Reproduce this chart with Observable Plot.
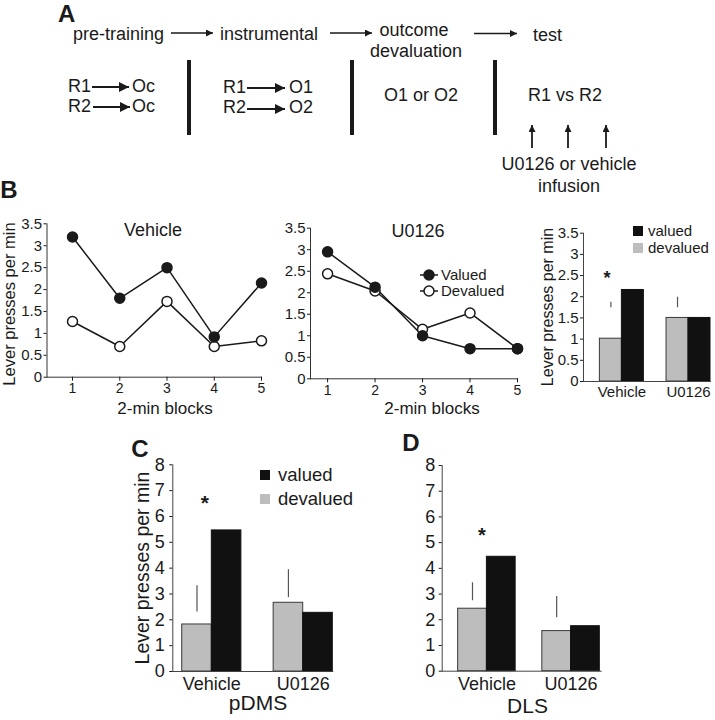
<!DOCTYPE html>
<html><head><meta charset="utf-8">
<script src="https://cdn.jsdelivr.net/npm/d3@7"></script>
<script src="https://cdn.jsdelivr.net/npm/@observablehq/plot@0.6"></script>
<style>
body{margin:0;background:#fff;overflow:hidden}
#fig{position:relative;width:715px;height:720px;background:#fff;font-family:"Liberation Sans",Arial,sans-serif;color:#1a1a1a;overflow:hidden}
.lbl{position:absolute;white-space:nowrap;transform:translate(-50%,-50%);line-height:1}
.rot{transform:translate(-50%,-50%) rotate(-90deg)}
.leg{position:absolute;white-space:nowrap;line-height:0.8;transform:translateY(-50%)}
.sq{position:absolute}
</style></head><body><div id="fig"></div>
<script>
// ---------- data ----------
const blocks = [1, 2, 3, 4, 5];
const vehicleValued = [3.2, 1.8, 2.5, 0.92, 2.15];
const vehicleDevalued = [1.27, 0.7, 1.73, 0.7, 0.83];
const u0126Valued = [2.95, 2.13, 1.0, 0.7, 0.7];
const u0126Devalued = [2.44, 2.04, 1.15, 1.53, 0.7];
const lineTicksY = [0, 0.5, 1, 1.5, 2, 2.5, 3, 3.5];

const groups = ["Vehicle", "U0126"];
const testValued = [2.16, 1.5];
const testDevalued = [1.01, 1.5];
const testErrLow = [1.74, 1.74];
const testErrHigh = [1.87, 1.99];
const testStar = [2.55, null];

const pdmsValued = [5.46, 2.27];
const pdmsDevalued = [1.82, 2.66];
const pdmsErrLow = [2.3, 2.86];
const pdmsErrHigh = [3.32, 3.94];
const pdmsStar = [6.73, null];

const dlsValued = [4.45, 1.75];
const dlsDevalued = [2.43, 1.56];
const dlsErrLow = [2.74, 2.08];
const dlsErrHigh = [3.44, 2.91];
const dlsStar = [5.5, null];
const barTicksY = [0, 1, 2, 3, 4, 5, 6, 7, 8];

const INK = "#1a1a1a", GRAY = "#bdbdbd", BLACK = "#111";
const FONT = "Liberation Sans, Arial, sans-serif";
const fig = document.getElementById("fig");

function place(el, left, top) {
  el.style.position = "absolute";
  el.style.left = left + "px";
  el.style.top = top + "px";
  fig.appendChild(el);
}
function label(text, x, y, size, opts = {}) {
  const d = document.createElement("div");
  d.className = "lbl" + (opts.rotate ? " rot" : "");
  d.textContent = text;
  d.style.left = x + "px";
  d.style.top = y + "px";
  d.style.fontSize = size + "px";
  if (opts.bold) d.style.fontWeight = "bold";
  fig.appendChild(d);
}

// ---------- panel A (schematic) ----------
(function () {
  const ns = "http://www.w3.org/2000/svg";
  const svg = document.createElementNS(ns, "svg");
  svg.setAttribute("width", 715); svg.setAttribute("height", 200);
  svg.style.position = "absolute"; svg.style.left = "0px"; svg.style.top = "0px";
  svg.innerHTML = `<defs>
    <marker id="hs" viewBox="0 0 10 10" refX="10" refY="5" markerWidth="8" markerHeight="7" markerUnits="userSpaceOnUse" orient="auto"><path d="M0,0L10,5L0,10z" fill="${INK}"/></marker>
    <marker id="hb" viewBox="0 0 10 10" refX="10" refY="5" markerWidth="11" markerHeight="10" markerUnits="userSpaceOnUse" orient="auto"><path d="M0,0L10,5L0,10z" fill="${INK}"/></marker>
  </defs>`;
  const g = document.createElementNS(ns, "g");
  g.setAttribute("font-family", FONT); g.setAttribute("font-size", 18); g.setAttribute("fill", INK);
  svg.appendChild(g);
  const txt = (s, x, y, anchor = "start", extra = {}) => {
    const t = document.createElementNS(ns, "text");
    t.setAttribute("x", x); t.setAttribute("y", y); t.setAttribute("text-anchor", anchor);
    for (const k in extra) t.setAttribute(k, extra[k]);
    t.textContent = s; g.appendChild(t);
  };
  const arrow = (x1, y1, x2, y2, big, w) => {
    const l = document.createElementNS(ns, "line");
    l.setAttribute("x1", x1); l.setAttribute("y1", y1); l.setAttribute("x2", x2); l.setAttribute("y2", y2);
    l.setAttribute("stroke", INK); l.setAttribute("stroke-width", w);
    l.setAttribute("marker-end", big ? "url(#hb)" : "url(#hs)");
    g.appendChild(l);
  };
  const bar = (x) => {
    const r = document.createElementNS(ns, "rect");
    r.setAttribute("x", x - 2); r.setAttribute("y", 60); r.setAttribute("width", 4); r.setAttribute("height", 75);
    r.setAttribute("fill", INK); g.appendChild(r);
  };
  txt("A", 58, 22, "start", {"font-weight": "bold", "font-size": 24});
  txt("pre-training", 73, 40);
  arrow(171, 33, 213, 33, false, 1.6);
  txt("instrumental", 220, 40);
  arrow(330, 33, 372, 33, false, 1.6);
  txt("outcome", 414, 36, "middle");
  txt("devaluation", 416, 57, "middle");
  arrow(474, 33.5, 517, 33.5, false, 1.6);
  txt("test", 533, 40.5);
  txt("R1", 68, 92); arrow(92, 87, 129, 87, true, 2); txt("Oc", 132, 92);
  txt("R2", 68, 112); arrow(93, 107, 130, 107, true, 2); txt("Oc", 132, 112);
  bar(189);
  txt("R1", 223, 92.5); arrow(247, 88, 285, 88, true, 2); txt("O1", 289, 92.5);
  txt("R2", 223, 113); arrow(247, 109, 285, 109, true, 2); txt("O2", 289, 113);
  bar(352);
  txt("O1 or O2", 421, 101, "middle");
  bar(495);
  txt("R1 vs R2", 565, 101, "middle");
  for (const x of [532, 568, 606]) arrow(x, 148, x, 125, false, 1.8);
  txt("U0126 or vehicle", 569, 170, "middle");
  txt("infusion", 569, 192, "middle");
  fig.appendChild(svg);
})();

// ---------- line panels ----------
function linePanel(valued, devalued, o) {
  const val = blocks.map((b, i) => ({block: b, value: valued[i]}));
  const dev = blocks.map((b, i) => ({block: b, value: devalued[i]}));
  return Plot.plot({
    width: o.width, height: o.height,
    marginLeft: o.ml, marginRight: o.mr, marginTop: o.mt, marginBottom: o.mb,
    x: {type: "linear", domain: o.xDomain},
    y: {domain: [0, 3.5]},
    style: {background: "transparent", fontFamily: FONT, fontSize: "15px", color: INK, overflow: "visible"},
    marks: [
      Plot.frame({anchor: "left", stroke: "#333"}),
      Plot.frame({anchor: "bottom", stroke: "#333"}),
      Plot.axisY(lineTicksY, {tickSize: 3, tickPadding: 2, tickFormat: d => String(d), fontSize: 15, label: null}),
      Plot.axisX(blocks, {tickSize: 4, tickPadding: 2, fontSize: 14, label: null}),
      Plot.line(dev, {x: "block", y: "value", stroke: INK, strokeWidth: 1.5}),
      Plot.line(val, {x: "block", y: "value", stroke: INK, strokeWidth: 1.5}),
      Plot.dot(dev, {x: "block", y: "value", r: 5, fill: "#fff", stroke: INK, strokeWidth: 1.5}),
      Plot.dot(val, {x: "block", y: "value", r: 5, fill: INK, stroke: INK, strokeWidth: 1.5})
    ]
  });
}
place(linePanel(vehicleValued, vehicleDevalued,
  {width: 273, height: 215, ml: 46.5, mr: 12, mt: 23.3, mb: 38.3, xDomain: [0.46, 5]}), 0, 200);
place(linePanel(u0126Valued, u0126Devalued,
  {width: 272, height: 215, ml: 55, mr: 10, mt: 27.7, mb: 36.7, xDomain: [0.64, 5]}), 255, 200);

// ---------- bar panels ----------
function barPanel(valued, devalued, lo, hi, star, o) {
  const rows = groups.map((g, i) => ({group: g, valued: valued[i], devalued: devalued[i], lo: lo[i], hi: hi[i], star: star[i]}));
  return Plot.plot({
    width: o.width, height: o.height,
    marginLeft: o.ml, marginRight: o.mr, marginTop: o.mt, marginBottom: o.mb,
    x: {type: "band", domain: groups, paddingInner: o.pi, paddingOuter: o.po, align: o.align, round: false},
    y: {domain: [0, o.yMax]},
    style: {background: "transparent", fontFamily: FONT, fontSize: o.fs + "px", color: INK, overflow: "visible"},
    marks: [
      Plot.barY(rows, {x: "group", y: "devalued", fill: GRAY, stroke: "#3a3a3a", strokeWidth: 1, insetRight: o.inset}),
      Plot.barY(rows, {x: "group", y: "valued", fill: BLACK, stroke: BLACK, strokeWidth: 1, insetLeft: o.inset}),
      Plot.ruleX(rows, {x: "group", y1: "lo", y2: "hi", dx: o.errDx, stroke: "#555", strokeWidth: 1.2}),
      Plot.text(rows.filter(d => d.star != null), {x: "group", y: "star", text: () => "*", dx: o.starDx, dy: o.starSize * 0.27, fontSize: o.starSize, fontWeight: "bold", fill: INK}),
      Plot.frame({anchor: "left", stroke: "#444"}),
      Plot.frame({anchor: "bottom", stroke: "#444"}),
      Plot.axisY(o.ticks, {tickSize: 3, tickPadding: o.tp, tickFormat: d => String(d), fontSize: o.fs, label: null}),
      Plot.axisX({tickSize: 0, tickPadding: o.xtp, fontSize: o.fs, label: null})
    ]
  });
}
place(barPanel(testValued, testDevalued, testErrLow, testErrHigh, testStar,
  {width: 185, height: 215, ml: 53, mr: 5, mt: 32.7, mb: 34, pi: 0.34, po: 0.123, align: 1,
   yMax: 3.5, ticks: lineTicksY, fs: 15, tp: 2, xtp: 5, inset: 22, errDx: -11, starDx: -15, starSize: 18}), 530, 200);
place(barPanel(pdmsValued, pdmsDevalued, pdmsErrLow, pdmsErrHigh, pdmsStar,
  {width: 212, height: 258, ml: 42.3, mr: 9.7, mt: 24.3, mb: 27, pi: 0.353, po: 0.0515, align: 1,
   yMax: 8, ticks: barTicksY, fs: 18, tp: 5, xtp: 6, inset: 29.6, errDx: -14.8, starDx: -7, starSize: 21}), 130, 440);
place(barPanel(dlsValued, dlsDevalued, dlsErrLow, dlsErrHigh, dlsStar,
  {width: 215, height: 258, ml: 41.7, mr: 14.3, mt: 25, mb: 27.3, pi: 0.317, po: 0.103, align: 0.92,
   yMax: 8, ticks: barTicksY, fs: 18, tp: 4, xtp: 6, inset: 28.75, errDx: -14.4, starDx: -5, starSize: 20}), 400, 440);

// ---------- text annotations ----------
label("B", 9, 190, 24, {bold: true});
label("C", 140, 449, 24, {bold: true});
label("D", 411, 443, 24, {bold: true});
label("Vehicle", 153, 230, 18);
label("U0126", 418, 231, 18);
label("2-min blocks", 165, 408, 17);
label("2-min blocks", 432, 408, 17);
label("Lever presses per min", 9, 304, 16.5, {rotate: true});
label("Lever presses per min", 547.5, 306.5, 16, {rotate: true});
label("Lever presses per min", 143, 567.5, 19.5, {rotate: true});
label("pDMS", 258, 702, 21);
label("DLS", 527.5, 705, 21);

// legends
function lineLegend(text, y, filled) {
  const ns = "http://www.w3.org/2000/svg";
  const s = document.createElementNS(ns, "svg");
  s.setAttribute("width", 20); s.setAttribute("height", 14);
  s.innerHTML = `<line x1="1" y1="7" x2="19" y2="7" stroke="${INK}" stroke-width="1.5"/><circle cx="10" cy="7" r="5" fill="${filled ? INK : "#fff"}" stroke="${INK}" stroke-width="1.5"/>`;
  place(s, 419, y - 7);
  const d = document.createElement("div");
  d.className = "leg"; d.textContent = text; d.style.fontSize = "15px";
  d.style.left = "441px"; d.style.top = y + "px";
  fig.appendChild(d);
}
lineLegend("Valued", 275, true);
lineLegend("Devalued", 291, false);

function squareLegend(items, x, textX, size, sq) {
  for (const it of items) {
    const b = document.createElement("div");
    b.className = "sq"; b.style.left = x + "px"; b.style.top = (it.y - sq / 2) + "px";
    b.style.width = sq + "px"; b.style.height = sq + "px"; b.style.background = it.color;
    fig.appendChild(b);
    const d = document.createElement("div");
    d.className = "leg"; d.textContent = it.text; d.style.fontSize = size + "px";
    d.style.left = textX + "px"; d.style.top = it.y + "px";
    fig.appendChild(d);
  }
}
squareLegend([{text: "valued", y: 231, color: BLACK}, {text: "devalued", y: 248, color: GRAY}], 633, 648, 15, 10);
squareLegend([{text: "valued", y: 475, color: BLACK}, {text: "devalued", y: 499, color: GRAY}], 260, 278, 18.5, 10);
</script></body></html>
